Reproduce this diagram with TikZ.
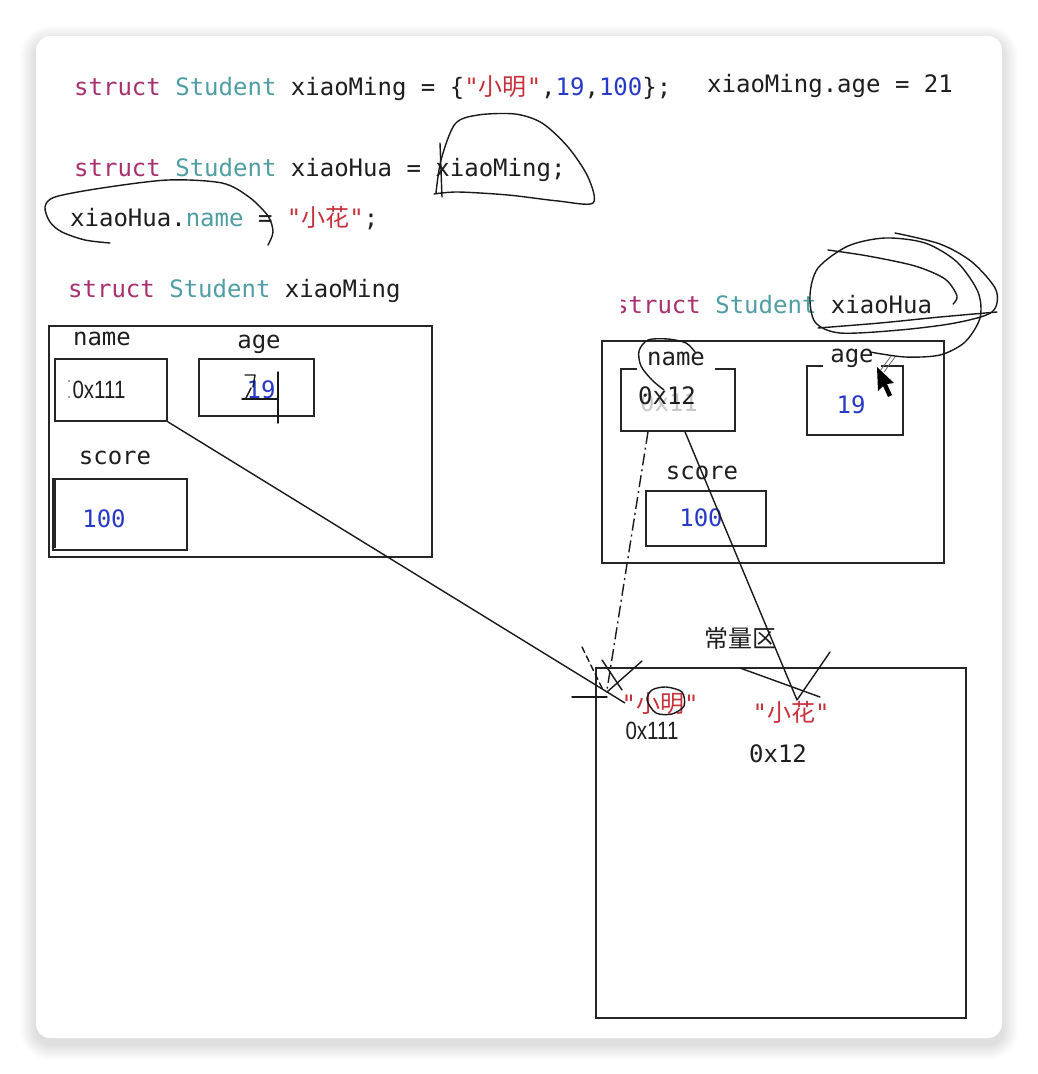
\documentclass[tikz,border=0pt]{standalone}
\usepackage{fontspec}
\setmonofont{DejaVu Sans Mono}
\newfontfamily\cjk{Noto Sans CJK SC}
\newfontfamily\sansf[FakeStretch=0.82]{Liberation Sans}
\usetikzlibrary{calc}
\definecolor{kw}{HTML}{A8306E}
\definecolor{ty}{HTML}{4F9EA3}
\definecolor{strc}{HTML}{C8303A}
\definecolor{numc}{HTML}{2639C8}
\definecolor{ink}{HTML}{1E1E1E}
\newcommand\codesz{\fontsize{24}{29}\selectfont\ttfamily}
\begin{document}
\begin{tikzpicture}[x=1pt,y=-1pt,
  code/.style={anchor=base west, inner sep=0pt, text=ink, font=\codesz},
  lbl/.style={anchor=base, inner sep=0pt, text=ink, font=\codesz},
  gaplbl/.style={anchor=base, inner ysep=5pt, fill=white, text=ink, font=\codesz},
  hexs/.style={anchor=base, inner sep=0pt, text=ink, font=\fontsize{25}{30}\selectfont\sansf},
  box/.style={draw=black!85, line width=1.8pt, inner sep=0pt, anchor=north west},
  conn/.style={draw=black!90, line width=1.4pt},
  hand/.style={draw=black!90, line width=1.4pt, line cap=round, line join=round}]
\useasboundingbox (0,0) rectangle (1038,1074);
\fill[white] (0,0) rectangle (1038,1074);
% card shadow
\foreach \i in {1,...,16}{
  \pgfmathsetmacro\rr{14+\i}
  \fill[black, opacity=0.007, rounded corners=\rr pt] ({36-\i},{36-\i+6}) rectangle ({1002+\i},{1038+\i+6});
}
\fill[white, rounded corners=14pt] (36,36) rectangle (1002,1038);

% ---- code lines ----
\node[code] (l1) at (74,95) {\textcolor{kw}{struct} \textcolor{ty}{Student} xiaoMing = \{\textcolor{strc}{"{\cjk 小明}"},\textcolor{numc}{19},\textcolor{numc}{100}\};};
\node[code] (l1b) at (707,92) {xiaoMing.age = 21};
\node[code] (l2) at (74,176) {\textcolor{kw}{struct} \textcolor{ty}{Student} xiaoHua = xiaoMing;};
\node[code] (l3) at (70,226) {xiaoHua.\textcolor{ty}{name} = \textcolor{strc}{"{\cjk 小花}"};};

% ---- left struct ----
\node[code] (ltitle) at (68,297) {\textcolor{kw}{struct} \textcolor{ty}{Student} xiaoMing};
\node[box, minimum width=383pt, minimum height=231pt] (lout) at (48,325) {};
\node[box, minimum width=112pt, minimum height=62pt] (lname) at (54,358) {};
\node[box, minimum width=115pt, minimum height=57pt] (lage) at (198,358) {};
\node[box, minimum width=134pt, minimum height=71pt] (lscore) at (52,478) {};
\draw[black!85, line width=1.2pt] (55,479) -- (55,548);
\node[lbl] (lnameL) at (102,345) {name};
\node[lbl] (lageL) at (259,348) {age};
\node[lbl] (lscoreL) at (115,464) {score};
\node[hexs] (lnameV) at (99,398) {0x111};
\fill[black!70] (69,381) circle (0.9) (69,397) circle (0.9);
\node[lbl, text=numc] (lageV) at (261,398) {19};
\node[lbl, text=numc] (lscoreV) at (104,527) {100};
% scribble over 19
\draw[hand] (245,375) -- (255,375) -- (253,387);
\draw[hand] (251,388) -- (246,398);
\draw[hand] (242,399) -- (278,399);
\draw[hand] (278,372) -- (278,423);

% ---- right struct ----
\node[code] (rtitle) at (614,313) {\textcolor{kw}{struct} \textcolor{ty}{Student} xiaoHua};
\fill[white] (608,290) rectangle (621,318);
\node[box, minimum width=342pt, minimum height=222pt] (rout) at (601,340) {};
\node[box, minimum width=114pt, minimum height=62pt] (rname) at (620,368) {};
\node[box, minimum width=96pt, minimum height=69pt] (rage) at (806,365) {};
\node[box, minimum width=120pt, minimum height=55pt] (rscore) at (645,490) {};
\node[gaplbl, inner xsep=10pt] (rnameL) at (676,365) {name};
\node[gaplbl, inner xsep=7pt] (rageL) at (852,362) {age};
\node[lbl] (rscoreL) at (702,479) {score};
\node[lbl, text=black!30, opacity=0.7] (rghost) at (669,411) {0x11};
\node[lbl] (rnameV) at (667,404) {0x12};
\node[lbl, text=numc] (rageV) at (851,413) {19};
\node[lbl, text=numc] (rscoreV) at (701,526) {100};

% ---- constant area ----
\node[lbl, font=\fontsize{24}{29}\selectfont\cjk] (ctitle) at (740,647) {常量区};
\node[box, minimum width=370pt, minimum height=350pt] (cbox) at (595,667) {};
\node[lbl, text=strc] (cming) at (660,712) {"{\cjk 小明}"};
\node[hexs] (cmingA) at (652,739) {0x111};
\node[lbl, text=strc] (chua) at (791,721) {"{\cjk 小花}"};
\node[lbl] (chuaA) at (778,762) {0x12};

% ---- connectors ----
\coordinate (m1) at (625,703);
\coordinate (m2) at (607,690);
\coordinate (h1) at (797,700);
\draw[conn] (lname.south east) -- (m1);
\draw[conn, dash pattern=on 12pt off 4pt on 2pt off 4pt] ($(rname.south west)+(28,0)$) -- (m2);
\draw[conn] ($(rname.south west)+(65,0)$) -- (h1);
% hand-drawn arrow heads
\draw[hand] (572,697) -- (607,697);
\draw[hand] (642,661) -- (607,692);
\draw[hand, dash pattern=on 6pt off 4pt] (582,647) -- (603,690);
\draw[hand] (602,660) -- (622,690);
\draw[hand] (830,652) -- (h1);
\draw[hand] (740,668) -- (820,697);
\draw[hand] plot[smooth cycle] coordinates {(647,700) (652,690) (666,687) (682,692) (684,706) (672,714) (656,713)};

% ---- hand-drawn loops ----
\draw[hand] plot[smooth] coordinates {(436,193) (441,160) (455,124) (478,115) (515,114) (542,123) (568,147) (588,177) (593,203) (558,201) (508,195) (458,192) (434,194)};
\draw[hand] (440,143) -- (442,197);
\draw[hand] plot[smooth] coordinates {(268,245) (273,232) (268,216) (249,197) (222,183) (168,180) (102,188) (55,197) (45,207) (50,222) (62,232) (85,240) (110,243)};
\draw[hand] plot[smooth] coordinates {(895,233) (940,244) (972,262) (996,290) (992,312) (955,323) (900,330) (840,333) (815,322) (810,295) (818,268) (848,246) (885,238) (925,243) (957,262) (978,292) (980,318) (965,342) (940,355) (905,357) (870,352)};
\draw[hand] plot[smooth] coordinates {(818,328) (880,323) (940,317) (997,312)};
\draw[hand] plot[smooth] coordinates {(828,250) (868,256) (915,266) (945,279) (957,296) (953,304)};
\draw[hand] plot[smooth] coordinates {(695,352) (686,343) (668,339) (648,340) (639,351) (641,366) (652,380) (664,390)};
% cursor
\draw[black!60, line width=0.8pt] (891,356) -- (880,371) (895,357) -- (884,372);
\fill[black] (877,367) -- (878,391) -- (883,386) -- (888,397) -- (892,395) -- (887,384) -- (894,383) -- cycle;
\end{tikzpicture}
\end{document}
